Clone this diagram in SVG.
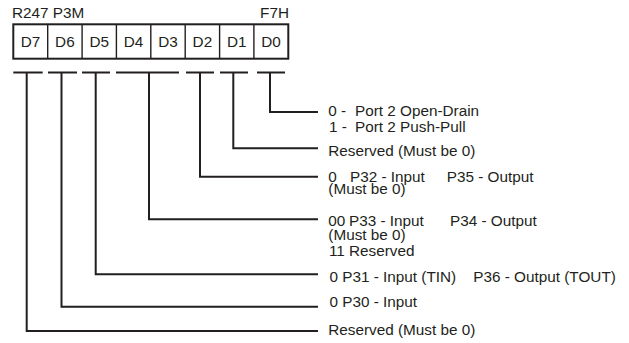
<svg xmlns="http://www.w3.org/2000/svg" width="629" height="343" viewBox="0 0 629 343">
<style>
text{font-family:"Liberation Sans",Arial,sans-serif;font-size:15.3px;fill:#231f20}
.c{text-anchor:middle}
.box{fill:#fff;stroke:#231f20;stroke-width:2}
.div{stroke:#231f20;stroke-width:1.4}
.w{fill:none;stroke:#231f20;stroke-width:2}
</style>
<rect width="629" height="343" fill="#fff"/>
<g id="register">
<text x="12" y="18">R247 P3M</text>
<text x="289" y="18" text-anchor="end">F7H</text>
<rect class="box" x="13.3" y="24.3" width="275" height="34.4"/>
<line class="div" x1="47.7" y1="24.3" x2="47.7" y2="58.7"/>
<line class="div" x1="82.1" y1="24.3" x2="82.1" y2="58.7"/>
<line class="div" x1="116.4" y1="24.3" x2="116.4" y2="58.7"/>
<line class="div" x1="150.8" y1="24.3" x2="150.8" y2="58.7"/>
<line class="div" x1="185.2" y1="24.3" x2="185.2" y2="58.7"/>
<line class="div" x1="219.6" y1="24.3" x2="219.6" y2="58.7"/>
<line class="div" x1="253.9" y1="24.3" x2="253.9" y2="58.7"/>
<text class="c" x="30.5" y="47.3">D7</text>
<text class="c" x="64.9" y="47.3">D6</text>
<text class="c" x="99.2" y="47.3">D5</text>
<text class="c" x="133.6" y="47.3">D4</text>
<text class="c" x="168" y="47.3">D3</text>
<text class="c" x="202.4" y="47.3">D2</text>
<text class="c" x="236.8" y="47.3">D1</text>
<text class="c" x="271.1" y="47.3">D0</text>
</g>
<g id="connectors">
<path class="w" d="M13.3 72.5H42.7M26.7 72.5V331H318"/>
<path class="w" d="M48 72.5H77M61.5 72.5V306.7H318"/>
<path class="w" d="M82 72.5H110M95.7 72.5V274.3H318"/>
<path class="w" d="M116 72.5H179M149 72.5V219.3H318"/>
<path class="w" d="M186 72.5H214M200 72.5V176.7H318"/>
<path class="w" d="M220 72.5H248M233.3 72.5V148.3H318"/>
<path class="w" d="M257 72.5H285M270 72.5V112H318"/>
</g>
<g id="d0-label">
<text y="116"><tspan x="328.3">0 -</tspan><tspan x="355">Port 2 Open-Drain</tspan></text>
<text y="131.5"><tspan x="329">1 -</tspan><tspan x="355">Port 2 Push-Pull</tspan></text>
</g>
<g id="d1-label"><text x="328.3" y="155.5">Reserved (Must be 0)</text></g>
<g id="d2-label">
<text y="181.5"><tspan x="328.3">0</tspan><tspan x="350">P32 - Input</tspan><tspan x="446.7">P35 - Output</tspan></text>
<text x="328.3" y="194">(Must be 0)</text>
</g>
<g id="d4d3-label">
<text y="226"><tspan x="328.3">00</tspan><tspan x="349">P33 - Input</tspan><tspan x="450">P34 - Output</tspan></text>
<text x="328.3" y="240">(Must be 0)</text>
<text y="255.5"><tspan x="329">11</tspan><tspan x="349">Reserved</tspan></text>
</g>
<g id="d5-label"><text y="281.5"><tspan x="329.5">0 P31 - Input (TIN)</tspan><tspan x="473.3">P36 - Output (TOUT)</tspan></text></g>
<g id="d6-label"><text x="329.5" y="306.5">0 P30 - Input</text></g>
<g id="d7-label"><text x="328.3" y="335">Reserved (Must be 0)</text></g>
</svg>
